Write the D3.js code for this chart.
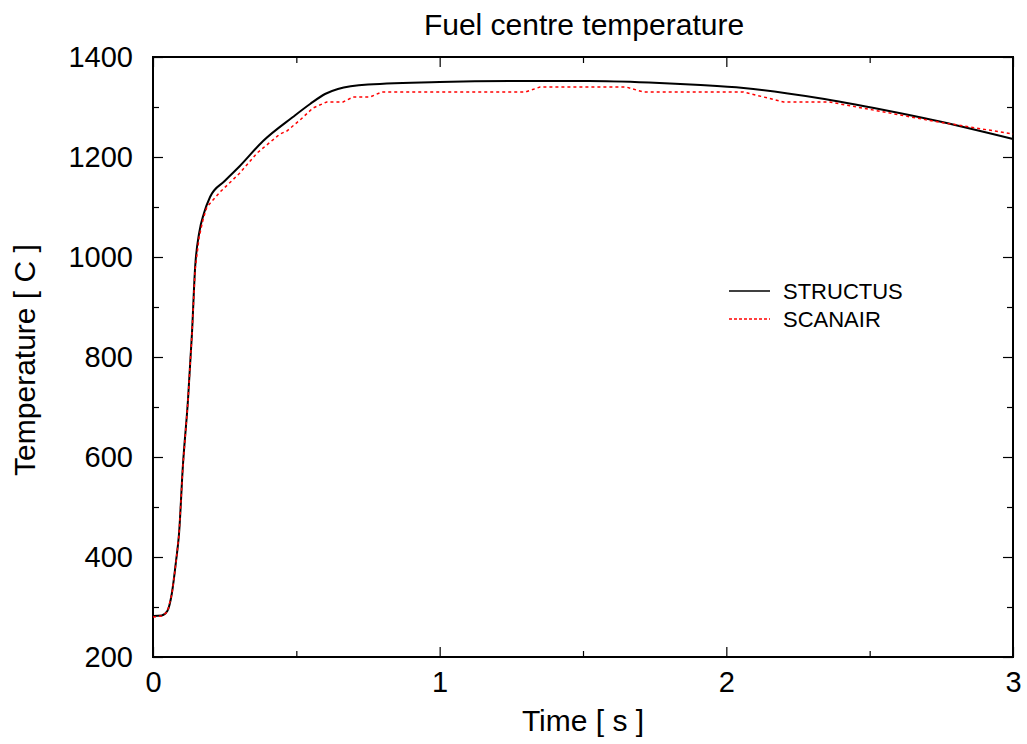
<!DOCTYPE html>
<html>
<head>
<meta charset="utf-8">
<script src="https://cdn.jsdelivr.net/npm/d3@7"></script>
<style>
  html, body { margin: 0; padding: 0; background: #fff; }
  text { font-family: "Liberation Sans", Arial, sans-serif; fill: #000; }
</style>
</head>
<body>
<svg id="chart" width="1027" height="744"></svg>
<script>
// Fuel centre temperature, two codes compared over the first 3 s
const structusTime = [0, 0.03, 0.05, 0.066, 0.08, 0.091, 0.104, 0.122, 0.136, 0.147, 0.161, 0.178, 0.199, 0.25, 0.303, 0.384, 0.488, 0.548, 0.6, 0.645, 0.75, 1.0, 1.33, 1.52, 1.73, 1.91, 2.06, 2.32, 2.55, 2.72, 3.0];
const structusTemp = [282, 283, 292, 328, 390, 448, 580, 714, 848, 980, 1048, 1088, 1120, 1152, 1182, 1232, 1280, 1306, 1326, 1336, 1345, 1350, 1352, 1352, 1349, 1344, 1338, 1318, 1294, 1274, 1236];

const scanairTime = [0, 0.03, 0.05, 0.066, 0.08, 0.091, 0.104, 0.122, 0.136, 0.147, 0.161, 0.175, 0.188, 0.234, 0.303, 0.363, 0.443, 0.467, 0.513, 0.558, 0.606, 0.663, 0.698, 0.757, 0.798, 1.30, 1.35, 1.65, 1.71, 2.06, 2.2, 2.36, 2.55, 2.72, 3.0];
const scanairTemp = [280, 282, 290, 326, 388, 446, 578, 712, 846, 975, 1040, 1076, 1100, 1130, 1168, 1208, 1246, 1252, 1274, 1298, 1310, 1310, 1320, 1320, 1330, 1330, 1340, 1340, 1330, 1330, 1310, 1310, 1290, 1272, 1246];

const xMajorTicks = [0, 1, 2, 3];
const xMinorTicks = [0.5, 1.5, 2.5];
const yMajorTicks = [200, 400, 600, 800, 1000, 1200, 1400];
const yMinorTicks = [300, 500, 700, 900, 1100, 1300];

const seriesNames = ["STRUCTUS", "SCANAIR"];

const svg = d3.select("#chart");
const plotLeft = 153, plotRight = 1013, plotTop = 57, plotBottom = 657;
const tickFont = 29, titleFont = 30;

const x = d3.scaleLinear().domain([0, 3]).range([plotLeft, plotRight]);
const y = d3.scaleLinear().domain([200, 1400]).range([plotBottom, plotTop]);

// Frame
svg.append("rect")
  .attr("x", plotLeft).attr("y", plotTop)
  .attr("width", plotRight - plotLeft).attr("height", plotBottom - plotTop)
  .attr("fill", "none").attr("stroke", "#000").attr("stroke-width", 2);

const tickStroke = g => g.selectAll("line").attr("stroke", "#000").attr("stroke-width", 1.2);

function addAxis(axisFn, scale, pos, values, size, labels, padding) {
  const axis = axisFn(scale).tickValues(values).tickSizeInner(-size).tickSizeOuter(0);
  if (labels) axis.tickFormat(d3.format("d")).tickPadding(padding);
  else axis.tickFormat("");
  const isVertical = axisFn === d3.axisLeft || axisFn === d3.axisRight;
  const g = svg.append("g")
    .attr("transform", isVertical ? `translate(${pos},0)` : `translate(0,${pos})`)
    .call(axis);
  g.select(".domain").remove();
  g.selectAll("text").attr("font-size", tickFont).style("font-family", "Liberation Sans, Arial, sans-serif");
  tickStroke(g);
  return g;
}

// Bottom and left carry labels; top and right mirror the ticks
addAxis(d3.axisBottom, x, plotBottom, xMajorTicks, 10, true, 14);
addAxis(d3.axisBottom, x, plotBottom, xMinorTicks, 6, false);
addAxis(d3.axisTop, x, plotTop, xMajorTicks, 10, false);
addAxis(d3.axisTop, x, plotTop, xMinorTicks, 6, false);
addAxis(d3.axisLeft, y, plotLeft, yMajorTicks, 10, true, 20);
addAxis(d3.axisLeft, y, plotLeft, yMinorTicks, 6, false);
addAxis(d3.axisRight, y, plotRight, yMajorTicks, 10, false);
addAxis(d3.axisRight, y, plotRight, yMinorTicks, 6, false);

// Curves
const structus = structusTime.map((t, i) => [t, structusTemp[i]]);
const scanair = scanairTime.map((t, i) => [t, scanairTemp[i]]);

const smoothLine = d3.line().x(d => x(d[0])).y(d => y(d[1])).curve(d3.curveMonotoneX);
const plainLine = d3.line().x(d => x(d[0])).y(d => y(d[1]));

svg.append("path").datum(structus)
  .attr("d", smoothLine)
  .attr("fill", "none").attr("stroke", "#000").attr("stroke-width", 2);

svg.append("path").datum(scanair)
  .attr("d", plainLine)
  .attr("fill", "none").attr("stroke", "#ff0000").attr("stroke-width", 1.5)
  .attr("stroke-dasharray", "3,3");

// Legend
const legend = svg.append("g");
const legendStyles = [
  { stroke: "#000", width: 1.5, dash: null },
  { stroke: "#ff0000", width: 1.3, dash: "3,2" }
];
seriesNames.forEach((name, i) => {
  const ly = 291 + i * 28;
  legend.append("line")
    .attr("x1", 729).attr("x2", 770).attr("y1", ly).attr("y2", ly)
    .attr("stroke", legendStyles[i].stroke).attr("stroke-width", legendStyles[i].width)
    .attr("stroke-dasharray", legendStyles[i].dash);
  legend.append("text")
    .attr("x", 783).attr("y", ly).attr("dy", "0.36em")
    .attr("font-size", 22).text(name);
});

// Titles
svg.append("text").attr("x", 584).attr("y", 35)
  .attr("text-anchor", "middle").attr("font-size", titleFont)
  .text("Fuel centre temperature");

svg.append("text").attr("x", 583).attr("y", 731)
  .attr("text-anchor", "middle").attr("font-size", titleFont)
  .text("Time [ s ]");

svg.append("text")
  .attr("transform", `translate(35,360) rotate(-90)`)
  .attr("text-anchor", "middle").attr("font-size", titleFont)
  .text("Temperature [ C ]");
</script>
</body>
</html>
